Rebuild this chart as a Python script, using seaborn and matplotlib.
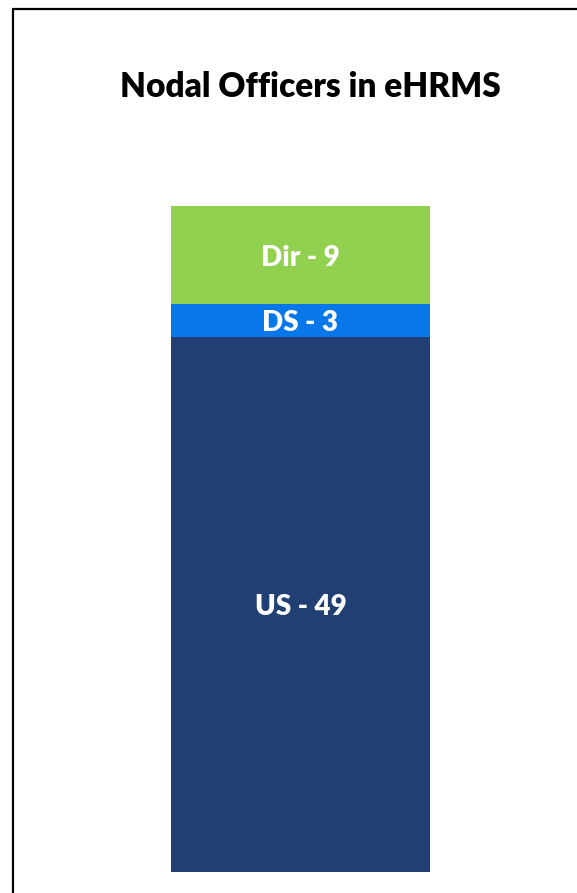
import matplotlib
matplotlib.use("Agg")
import matplotlib.pyplot as plt
from matplotlib.lines import Line2D
import pandas as pd
import seaborn as sns

# stacked segments, bottom to top
levels = ["US", "DS", "Dir"]
counts = [49, 3, 9]
colors = ["#213F73", "#0777EA", "#92D050"]
title = "Nodal Officers in eHRMS"

W, H = 577, 893
sns.set_theme(style="white")
plt.rcParams["font.family"] = ["Lato", "DejaVu Sans"]

fig = plt.figure(figsize=(W / 100, H / 100), dpi=100)
fig.patch.set_facecolor("white")

# axes spans exactly the bar area
ax = fig.add_axes([171 / W, (H - 872) / H, (430 - 171) / W, (872 - 206) / H])

df = pd.DataFrame({"group": ["Nodal"] * len(levels), "level": levels, "count": counts})
bottom = 0
for i, row in df.iterrows():
    sns.barplot(x=[row["group"]], y=[row["count"]], bottom=bottom, color=colors[i],
                width=1.0, saturation=1, ax=ax, linewidth=0)
    ax.annotate(f'{row["level"]} - {row["count"]}', (0, bottom + row["count"] / 2),
                xytext=(0, -2), textcoords="offset points",
                ha="center", va="center", color="white", fontsize=20, fontweight="heavy")
    bottom += row["count"]

ax.set_xlim(-0.5, 0.5)
ax.set_ylim(0, bottom)
ax.axis("off")

fig.text(310 / W, 1 - 87 / H, title, ha="center", va="center",
         fontsize=24, fontweight="heavy", color="black")

# chart frame (only left and top edges visible)
fig.add_artist(Line2D([12.5 / W, 12.5 / W], [0, 1 - 8.5 / H], transform=fig.transFigure,
                      color="black", linewidth=1.6))
fig.add_artist(Line2D([12.5 / W, 1], [1 - 8.5 / H, 1 - 8.5 / H], transform=fig.transFigure,
                      color="black", linewidth=1.6))

fig.savefig("out.png", dpi=100, facecolor="white")
